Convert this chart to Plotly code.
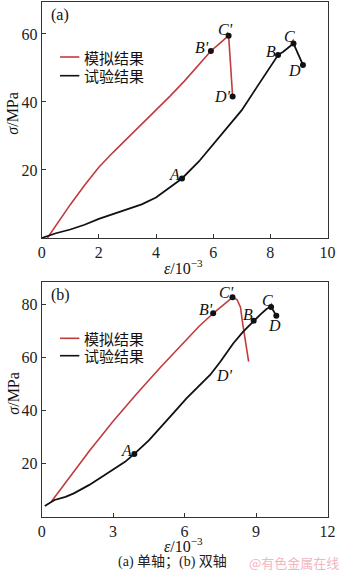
import plotly.graph_objects as go

W, H = 350, 571

# ---------------- data (a) uniaxial ----------------
a_sim_x = [0.2, 1.0, 1.5, 2.0, 2.5, 3.0, 3.5, 4.0, 4.5, 5.0, 5.5, 5.92, 6.2, 6.54, 6.6, 6.65, 6.68]
a_sim_y = [0.0, 9.8, 15.5, 20.8, 25.2, 29.3, 33.4, 37.5, 41.8, 46.2, 51.0, 55.0, 57.0, 59.5, 52.0, 46.0, 41.6]
a_exp_x = [0.0, 0.5, 1.0, 1.5, 2.0, 2.5, 3.0, 3.5, 4.0, 4.5, 4.91, 5.5, 6.0, 6.5, 7.0, 7.5, 8.0, 8.27, 8.45, 8.6, 8.81, 8.95, 9.14]
a_exp_y = [0.0, 1.4, 2.5, 3.9, 5.6, 7.0, 8.3, 9.9, 11.9, 15.0, 17.5, 22.5, 27.5, 32.5, 37.6, 44.0, 50.4, 53.8, 54.8, 55.9, 57.2, 54.5, 50.9]
a_pt_names = ["A", "B'", "C'", "D'", "B", "C", "D"]
a_pt_x = [4.91, 5.92, 6.54, 6.68, 8.27, 8.81, 9.14]
a_pt_y = [17.5, 55.0, 59.5, 41.6, 53.8, 57.2, 50.9]

# ---------------- data (b) biaxial ----------------
b_sim_x = [0.41, 1.0, 2.0, 3.0, 4.0, 5.0, 6.0, 6.6, 7.2, 7.6, 8.01, 8.2, 8.35, 8.42, 8.5, 8.6, 8.69]
b_sim_y = [5.7, 12.8, 24.8, 36.0, 46.5, 56.5, 66.0, 71.8, 76.8, 79.9, 82.8, 82.0, 79.0, 74.0, 69.0, 63.0, 58.5]
b_exp_x = [0.13, 0.54, 1.0, 1.35, 2.0, 2.57, 2.97, 3.5, 3.89, 4.5, 5.0, 5.5, 6.08, 6.5, 7.07, 7.5, 8.04, 8.45, 8.9, 9.2, 9.45, 9.63, 9.85]
b_exp_y = [4.0, 6.3, 7.5, 8.8, 12.0, 15.1, 17.6, 20.7, 23.7, 28.8, 34.0, 38.8, 44.7, 48.5, 53.5, 58.5, 65.4, 69.8, 74.0, 76.5, 78.5, 79.2, 75.9]
b_pt_names = ["A", "B'", "C'", "B", "C", "D"]
b_pt_x = [3.89, 7.2, 8.01, 8.9, 9.63, 9.85]
b_pt_y = [23.7, 76.8, 82.8, 74.0, 79.2, 75.9]
b_extra_label = "D'"
b_extra_x, b_extra_y = 7.67, 53.2

a_xticks = [0, 2, 4, 6, 8, 10]
a_yticks = [20, 40, 60]
b_xticks = [0, 3, 6, 9, 12]
b_yticks = [20, 40, 60, 80]

legend_names = ["模拟结果", "试验结果"]

RED = "#c23b3e"
BLK = "#111111"
SERIF = "Liberation Serif, Times New Roman, serif"
CJK = "Noto Sans CJK SC"

def px(x):
    return x / W

def py(y):
    return 1 - y / H

fig = go.Figure()

# panel a
fig.add_trace(go.Scatter(x=a_sim_x, y=a_sim_y, mode="lines", line=dict(color=RED, width=1.6),
                         xaxis="x", yaxis="y", showlegend=False))
fig.add_trace(go.Scatter(x=a_exp_x, y=a_exp_y, mode="lines", line=dict(color=BLK, width=1.8),
                         xaxis="x", yaxis="y", showlegend=False))
fig.add_trace(go.Scatter(x=a_pt_x, y=a_pt_y, mode="markers", marker=dict(color=BLK, size=6),
                         xaxis="x", yaxis="y", showlegend=False))
# panel b
fig.add_trace(go.Scatter(x=b_sim_x, y=b_sim_y, mode="lines", line=dict(color=RED, width=1.6),
                         xaxis="x2", yaxis="y2", showlegend=False))
fig.add_trace(go.Scatter(x=b_exp_x, y=b_exp_y, mode="lines", line=dict(color=BLK, width=1.8),
                         xaxis="x2", yaxis="y2", showlegend=False))
fig.add_trace(go.Scatter(x=b_pt_x, y=b_pt_y, mode="markers", marker=dict(color=BLK, size=6),
                         xaxis="x2", yaxis="y2", showlegend=False))

xdom = [39 / W, 335 / W]
axcommon = dict(showline=True, linecolor="#333", linewidth=1, mirror=True, ticks="inside",
                ticklen=4, tickcolor="#333", showgrid=False, zeroline=False,
                tickfont=dict(family=SERIF, size=16, color="#222"))

fig.update_layout(
    width=W, height=H, margin=dict(l=0, r=0, t=0, b=0),
    paper_bgcolor="white", plot_bgcolor="white",
    xaxis=dict(domain=xdom, range=[0, 10], tickvals=a_xticks, anchor="y", **axcommon),
    yaxis=dict(domain=[1 - 238 / H, 1 - 2 / H], range=[0, 69.4], tickvals=a_yticks, anchor="x", **axcommon),
    xaxis2=dict(domain=xdom, range=[0, 12], tickvals=b_xticks, anchor="y2", **axcommon),
    yaxis2=dict(domain=[1 - 516.7 / H, 1 - 282 / H], range=[0, 88.6], tickvals=b_yticks, anchor="x2", **axcommon),
)

ann = []
shapes = []

def lab(text, x, y, xr, yr, dx, dy):
    ann.append(dict(text=f"<i>{text}</i>", x=x, y=y, xref=xr, yref=yr, showarrow=False,
                    xanchor="center", yanchor="middle", xshift=dx, yshift=dy,
                    font=dict(family=SERIF, size=16, color="#111")))

a_shifts = [(-8, 4), (-9, 3), (-3, 6), (-10, 0), (-7, 4), (-4, 7), (-8, -6)]
for n, x, y, (dx, dy) in zip(a_pt_names, a_pt_x, a_pt_y, a_shifts):
    lab(n, x, y, "x", "y", dx, dy)
b_shifts = [(-8, 3), (-7, 4), (-6, 5), (-6, 6), (-4, 6), (-2, -10)]
for n, x, y, (dx, dy) in zip(b_pt_names, b_pt_x, b_pt_y, b_shifts):
    lab(n, x, y, "x2", "y2", dx, dy)
lab(b_extra_label, b_extra_x, b_extra_y, "x2", "y2", 0, 0)

# panel tags
for t, yy in [("(a)", 15), ("(b)", 295)]:
    ann.append(dict(text=t, x=px(47), y=py(yy), xref="paper", yref="paper", showarrow=False,
                    xanchor="left", yanchor="middle", font=dict(family=SERIF, size=16, color="#111")))

# axis titles
for yy in [113, 393]:
    ann.append(dict(text="<i>σ</i>/MPa", x=px(9), y=py(yy), xref="paper", yref="paper", showarrow=False,
                    textangle=-90, xanchor="center", yanchor="middle",
                    font=dict(family=SERIF, size=16, color="#111")))
for yy in [267, 545]:
    ann.append(dict(text="<i>ε</i>/10<sup>−3</sup>", x=px(186), y=py(yy), xref="paper", yref="paper",
                    showarrow=False, xanchor="center", yanchor="middle", height=16,
                    font=dict(family=SERIF, size=16, color="#111")))

# legends
for y_red, y_blk in [(57, 75.7), (338.3, 355.7)]:
    for yy, col, name in [(y_red, RED, legend_names[0]), (y_blk, BLK, legend_names[1])]:
        shapes.append(dict(type="line", xref="paper", yref="paper", x0=px(58), x1=px(78),
                           y0=py(yy), y1=py(yy), line=dict(color=col, width=1.6)))
        ann.append(dict(text=name, x=px(81), y=py(yy), xref="paper", yref="paper", showarrow=False,
                        xanchor="left", yanchor="middle", height=17,
                        font=dict(family=CJK, size=15, color="#111")))

# caption & watermark
ann.append(dict(text="(a) 单轴；(b) 双轴", x=px(174), y=py(562), xref="paper", yref="paper",
                showarrow=False, xanchor="center", yanchor="middle",
                font=dict(family=SERIF + ", " + CJK, size=14, color="#222")))
ann.append(dict(text="@有色金属在线", x=px(300), y=py(562), xref="paper", yref="paper",
                showarrow=False, xanchor="center", yanchor="middle",
                font=dict(family=CJK, size=13, color="#f2b6bf")))

fig.update_layout(annotations=ann, shapes=shapes)
fig.write_html("out.html")
